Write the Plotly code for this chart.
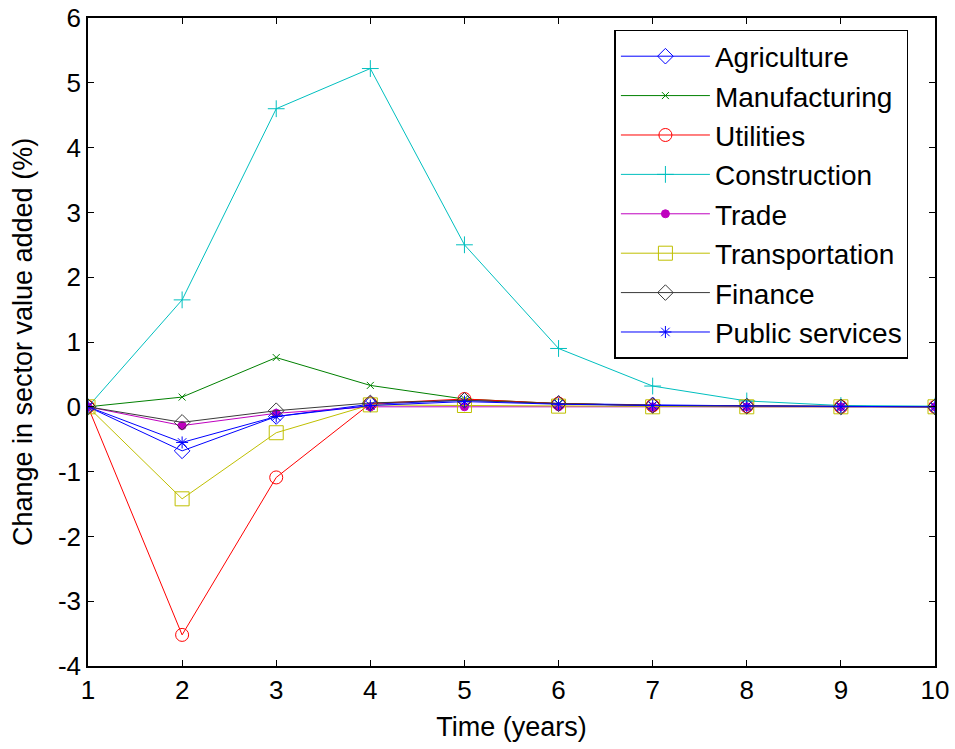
import plotly.graph_objects as go

years = [1, 2, 3, 4, 5, 6, 7, 8, 9, 10]
agriculture = [0, -0.68, -0.15, 0.04, 0.10, 0.05, 0.03, 0.01, 0.0, 0.0]
manufacturing = [0, 0.15, 0.76, 0.33, 0.12, 0.05, 0.02, 0.01, 0.0, 0.0]
utilities = [0, -3.52, -1.09, 0.05, 0.12, 0.05, 0.02, 0.01, 0.0, 0.0]
construction = [0, 1.65, 4.6, 5.22, 2.5, 0.9, 0.32, 0.09, 0.02, 0.01]
trade = [0, -0.29, -0.10, 0.0, 0.0, 0.0, 0.0, 0.0, 0.0, 0.0]
transportation = [0, -1.42, -0.40, 0.03, 0.02, 0.01, 0.0, 0.0, 0.0, 0.0]
finance = [0, -0.24, -0.06, 0.06, 0.10, 0.05, 0.02, 0.01, 0.0, 0.0]
public_services = [0, -0.55, -0.15, 0.02, 0.08, 0.04, 0.02, 0.01, 0.0, 0.0]

y_tick_vals = [-4, -3, -2, -1, 0, 1, 2, 3, 4, 5, 6]
y_tick_text = ["-4", "-3", "-2", "-1", "0", "1", "2", "3", "4", "5", "6"]

series = [
    ("Agriculture", agriculture, "#0000FF", "diamond-open", 12),
    ("Manufacturing", manufacturing, "#008000", "x-thin-open", 7),
    ("Utilities", utilities, "#FF0000", "circle-open", 13),
    ("Construction", construction, "#00BFBF", "cross-thin-open", 12),
    ("Trade", trade, "#BF00BF", "circle", 8),
    ("Transportation", transportation, "#BFBF00", "square-open", 14),
    ("Finance", finance, "#3a3a3a", "diamond-open", 12),
    ("Public services", public_services, "#0000FF", "asterisk-open", 10),
]

fig = go.Figure()
for name, vals, color, sym, size in series:
    fig.add_trace(go.Scatter(
        x=years, y=vals, name=name, mode="lines+markers",
        line=dict(color=color, width=1),
        marker=dict(symbol=sym, size=size, color=color, line=dict(color=color, width=1)),
    ))

axis_common = dict(
    showline=True, mirror="ticks", linecolor="black", linewidth=1.5,
    ticks="inside", ticklen=6, tickcolor="black",
    showgrid=False, zeroline=False, automargin=False,
    tickfont=dict(size=26, color="black"),
)
fig.update_xaxes(range=[1, 10], dtick=1,
                 title=dict(text="Time (years)", font=dict(size=27, color="black"), standoff=13),
                 **axis_common)
fig.update_yaxes(range=[-4, 6], tickmode="array", tickvals=y_tick_vals, ticktext=y_tick_text,
                 title=dict(text="Change in sector value added (%)", font=dict(size=27, color="black"), standoff=17),
                 **axis_common)

fig.update_layout(
    width=955, height=749,
    margin=dict(l=88, r=20, t=18, b=83),
    paper_bgcolor="white", plot_bgcolor="white",
    font=dict(family="Liberation Sans, Arial, sans-serif", color="black"),
    legend=dict(
        x=0.6215, y=0.9815, xanchor="left", yanchor="top",
        bgcolor="white", bordercolor="black", borderwidth=1.5,
        font=dict(size=28, color="black"),
        itemwidth=89, tracegroupgap=0,
    ),
    showlegend=True,
)

fig.write_html("out.html")
